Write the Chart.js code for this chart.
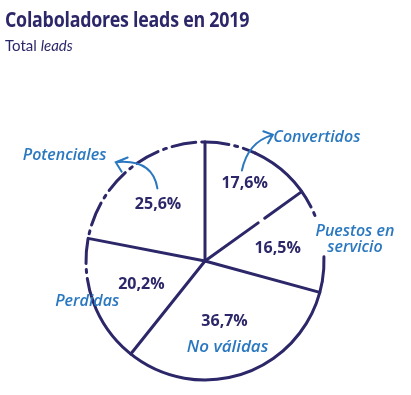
<!DOCTYPE html>
<html><head><meta charset="utf-8">
<script src="https://cdn.jsdelivr.net/npm/chart.js@4/dist/chart.umd.min.js"></script>
<style>
html,body{margin:0;padding:0;background:#fff;}
#wrap{position:relative;width:411px;height:395px;overflow:hidden;}
canvas{position:absolute;left:0;top:0;}
#title{position:absolute;left:5px;top:3px;font:bold 22px "Open Sans",sans-serif;color:#2c2769;white-space:nowrap;transform:scaleX(0.81);transform-origin:left top;letter-spacing:-0.3px;}
#sub{position:absolute;left:5px;top:36px;font:15px Lato,sans-serif;color:#2c2769;white-space:nowrap;}
</style></head><body>
<div id="wrap">
<canvas id="c" width="411" height="395"></canvas>
<div id="title">Colaboladores leads en 2019</div>
<div id="sub">Total <i>leads</i></div>
</div>
<script>
// ---- data ----
const categories = ['Convertidos', 'Puestos en servicio', 'No válidas', 'Perdidas', 'Potenciales'];
const values = [17.6, 16.5, 36.7, 20.2, 25.6];
const valueLabels = ['17,6%', '16,5%', '36,7%', '20,2%', '25,6%'];
const categoryLines = [['Convertidos'], ['Puestos en', 'servicio'], ['No válidas'], ['Perdidas'], ['Potenciales']];

// ---- styling / layout (not data) ----
const NAVY = '#2c2769';
const BLUE = '#2a78c0';
const pctRadius = [0.73, 0.62, 0.53, 0.57, 0.62];
const catOffset = [[0.94, -1.04], [1.26, -0.18], [0.19, 0.72], [-0.99, 0.34], [-1.18, -0.89]];
const catSize = [16, 16, 17, 16, 16];
// outer ring segments: [fromDeg, toDeg (clockwise from north), dashed]
const ring = [[0, 25, true], [25, 63, false], [66, 67.5, false], [88, 100, true], [100, 250, false], [250, 360, true]];

const decor = {
  id: 'decor',
  afterDatasetsDraw(chart) {
    const ctx = chart.ctx;
    const arcs = chart.getDatasetMeta(0).data;
    const p = arcs[0].getProps(['x', 'y', 'outerRadius'], true);
    const cx = p.x, cy = p.y, r = p.outerRadius;
    const toRad = d => (d - 90) * Math.PI / 180;
    ctx.save();
    ctx.lineCap = 'round';
    ctx.strokeStyle = NAVY;
    ctx.lineWidth = 3;
    // outer ring
    ring.forEach(([a, b, dashed]) => {
      ctx.setLineDash(dashed ? [24, 6, 3, 6] : []);
      ctx.beginPath();
      ctx.arc(cx, cy, r, toRad(a), toRad(b));
      ctx.stroke();
    });
    // radial lines from arc geometry
    arcs.forEach((a, i) => {
      const ang = a.startAngle;
      ctx.setLineDash(i === 1 ? [r * 0.55, 8, r] : []);
      ctx.beginPath();
      ctx.moveTo(cx, cy);
      ctx.lineTo(cx + r * Math.cos(ang), cy + r * Math.sin(ang));
      ctx.stroke();
    });
    ctx.setLineDash([]);
    // percentage labels
    ctx.fillStyle = NAVY;
    ctx.font = 'bold 16px "Open Sans", sans-serif';
    ctx.textAlign = 'center';
    ctx.textBaseline = 'middle';
    arcs.forEach((a, i) => {
      const mid = (a.startAngle + a.endAngle) / 2;
      const rr = r * pctRadius[i];
      ctx.fillText(valueLabels[i], cx + rr * Math.cos(mid), cy + rr * Math.sin(mid));
    });
    // category labels
    ctx.fillStyle = BLUE;
    categoryLines.forEach((lines, i) => {
      ctx.font = 'italic 600 ' + catSize[i] + 'px "Open Sans", sans-serif';
      const lx = cx + catOffset[i][0] * r, ly = cy + catOffset[i][1] * r;
      const lh = 16;
      lines.forEach((t, k) => {
        ctx.fillText(t, lx, ly + (k - (lines.length - 1) / 2) * lh);
      });
    });
    // arrows
    ctx.strokeStyle = BLUE;
    ctx.lineWidth = 2;
    const P = (u, v) => [cx + u * r, cy + v * r];
    function arrow(t, c, h, b1, b2) {
      const T = P(...t), C = P(...c), H = P(...h), B1 = P(...b1), B2 = P(...b2);
      ctx.beginPath();
      ctx.moveTo(T[0], T[1]);
      ctx.quadraticCurveTo(C[0], C[1], H[0], H[1]);
      ctx.moveTo(B1[0], B1[1]);
      ctx.lineTo(H[0], H[1]);
      ctx.lineTo(B2[0], B2[1]);
      ctx.stroke();
    }
    arrow([-0.40, -0.61], [-0.44, -0.86], [-0.75, -0.83], [-0.65, -0.87], [-0.70, -0.75]);
    arrow([0.31, -0.76], [0.36, -1.0], [0.57, -1.06], [0.49, -1.09], [0.53, -0.99]);
    ctx.restore();
  }
};

new Chart(document.getElementById('c'), {
  type: 'pie',
  data: {
    labels: categories,
    datasets: [{ data: values, backgroundColor: '#ffffff', borderWidth: 0 }]
  },
  options: {
    responsive: false,
    animation: false,
    rotation: 0,
    layout: { padding: { top: 142, bottom: 15, left: 86, right: 87 } },
    plugins: { legend: { display: false }, tooltip: { enabled: false } }
  },
  plugins: [decor]
});
</script>
</body></html>
